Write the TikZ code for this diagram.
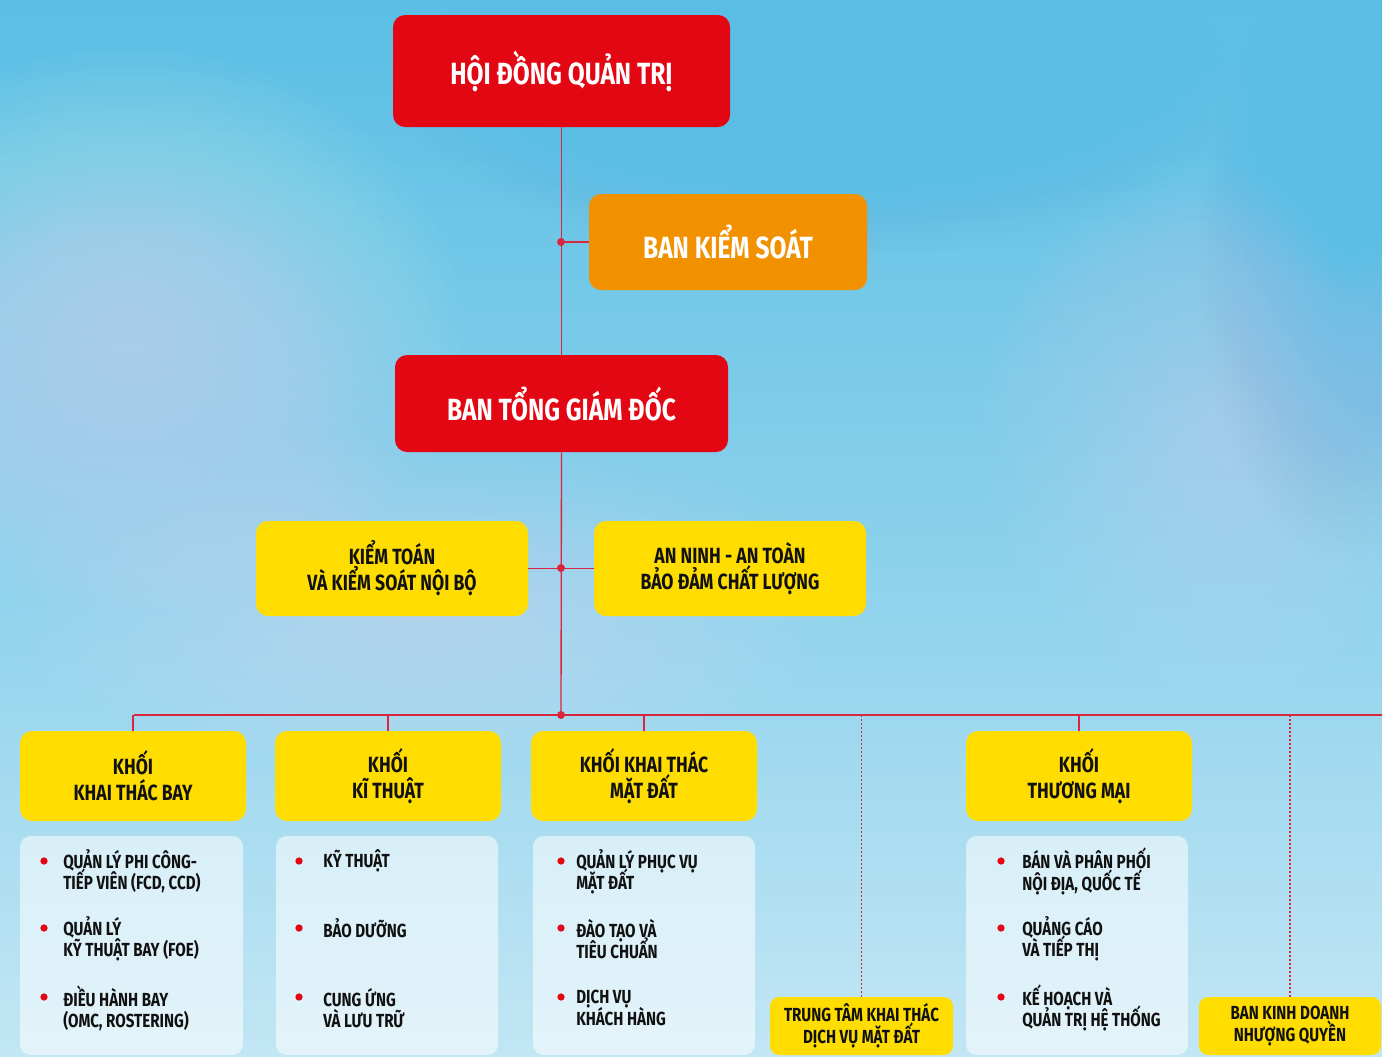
\documentclass[tikz,border=0pt]{standalone}
\usepackage{fontspec}
\newfontfamily\cf{Fira Sans}[FakeStretch=0.80]
\newcommand{\tightlines}{\lineskiplimit=-30pt\relax}
\definecolor{boxred}{HTML}{E30613}
\definecolor{boxorange}{HTML}{F29100}
\definecolor{boxyellow}{HTML}{FFDD00}
\definecolor{linered}{HTML}{D9263C}
\definecolor{skytop}{HTML}{5ABEE4}
\definecolor{skybot}{HTML}{C2E6F4}
\definecolor{txt}{HTML}{111111}
\tikzset{
  box/.style={rounded corners=9pt, inner sep=0pt, align=center, font=\cf\bfseries},
  redbox/.style={box, fill=boxred, text=white, font=\cf\bfseries\fontsize{23}{26}\selectfont},
  orbox/.style={box, fill=boxorange, text=white, font=\cf\bfseries\fontsize{23}{26}\selectfont},
  ybox/.style={box, fill=boxyellow, text=txt, font={\cf\bfseries\fontsize{16.5}{19.5}\selectfont\tightlines}},
  sbox/.style={box, fill=boxyellow, text=txt, rounded corners=7pt, font={\cf\bfseries\fontsize{14.2}{16.5}\selectfont\tightlines}},
  panel/.style={rounded corners=8pt, fill=white, fill opacity=0.55, inner sep=0pt},
  itemtxt/.style={font={\cf\bfseries\fontsize{14.2}{16}\selectfont\tightlines}, text=txt, align=left, inner sep=0pt, anchor=west},
  conn/.style={draw=linered, line width=1pt},
  dotconn/.style={draw=linered, line width=1pt, dotted},
  jdot/.style={circle, fill=linered, inner sep=0pt, minimum size=6pt},
  bdot/.style={circle, fill=boxred, inner sep=0pt, minimum size=5.5pt},
}
% #1 name, #2 bullet x, #3 text x, #4 bullet y, #5 text centre y, #6 text
\newcommand{\bitem}[6]{%
  \node[bdot] (#1d) at (#2,#4) {};
  \node[itemtxt] (#1) at (#3,#5) {#6};}
\begin{document}
\begin{tikzpicture}[x=0.75pt,y=-0.75pt]
% background
\shade[top color=skytop, bottom color=skybot, middle color=skytop!55!skybot] (0,0) rectangle (1382,1057);
\useasboundingbox (0,0) rectangle (1382,1057);
\begin{scope}
\clip (0,0) rectangle (1382,1057);
\foreach \s in {1.0,0.97,...,0.05} {
  \fill[white, opacity=0.02] (130,330) ellipse ({330*\s} and {280*\s});
  \fill[white, opacity=0.016] (420,600) ellipse ({420*\s} and {170*\s});
  \fill[white, opacity=0.014] (1230,430) ellipse ({250*\s} and {260*\s});
  \fill[skytop, opacity=0.025] (820,90) ellipse ({420*\s} and {170*\s});
  \fill[skytop, opacity=0.018] (1340,260) ellipse ({140*\s} and {300*\s});
}
\end{scope}

% top nodes
\node[redbox, minimum width=0.75*337pt, minimum height=0.75*112pt] (hdqt) at (561.5,71) {HỘI ĐỒNG QUẢN TRỊ};
\node[orbox, minimum width=0.75*278pt, minimum height=0.75*96pt] (bks) at (728,242) {BAN KIỂM SOÁT};
\node[redbox, minimum width=0.75*333pt, minimum height=0.75*97pt] (btgd) at (561.5,403.5) {BAN TỔNG GIÁM ĐỐC};
\node[ybox, minimum width=0.75*272pt, minimum height=0.75*95pt] (kt) at (392,568.5) {KIỂM TOÁN\\VÀ KIỂM SOÁT NỘI BỘ};
\node[ybox, minimum width=0.75*272pt, minimum height=0.75*95pt] (an) at (730,568.5) {AN NINH - AN TOÀN\\BẢO ĐẢM CHẤT LƯỢNG};

% blocks
\node[ybox, minimum width=0.75*226pt, minimum height=0.75*90pt] (k1) at (133,776) {KHỐI\\KHAI THÁC BAY};
\node[ybox, minimum width=0.75*226pt, minimum height=0.75*90pt] (k2) at (388,776) {KHỐI\\KĨ THUẬT};
\node[ybox, minimum width=0.75*226pt, minimum height=0.75*90pt] (k3) at (644,776) {KHỐI KHAI THÁC\\MẶT ĐẤT};
\node[ybox, minimum width=0.75*226pt, minimum height=0.75*90pt] (k4) at (1079,776) {KHỐI\\THƯƠNG MẠI};

\node[sbox, minimum width=0.75*183pt, minimum height=0.75*58pt] (tt) at (861.5,1026) {TRUNG TÂM KHAI THÁC\\DỊCH VỤ MẶT ĐẤT};
\node[sbox, minimum width=0.75*182pt, minimum height=0.75*58pt] (bkd) at (1290,1026) {BAN KINH DOANH\\NHƯỢNG QUYỀN};

% panels
\node[panel, minimum width=0.75*223pt, minimum height=0.75*219pt] (p1) at (131.5,945.5) {};
\node[panel, minimum width=0.75*222pt, minimum height=0.75*219pt] (p2) at (387,945.5) {};
\node[panel, minimum width=0.75*222pt, minimum height=0.75*219pt] (p3) at (644,945.5) {};
\node[panel, minimum width=0.75*222pt, minimum height=0.75*219pt] (p4) at (1077,945.5) {};

% connectors
\coordinate (hub) at (561,715);
\coordinate (lend) at (134,715);
\coordinate (rend) at (1382,715);
\coordinate (j1) at (561,242);
\coordinate (j2) at (561,568);
\draw[conn] (hdqt.south) -- (btgd.north);
\draw[conn] (j1) -- (bks.west);
\draw[conn] (btgd.south) -- (hub);
\draw[conn] (kt.east) -- (an.west);
\draw[conn] (lend) -- (rend);
\draw[conn] (k1.north) -- (k1.north |- hub);
\draw[conn] (k2.north) -- (k2.north |- hub);
\draw[conn] (k3.north) -- (k3.north |- hub);
\draw[conn] (k4.north) -- (k4.north |- hub);
\draw[dotconn] (tt.north) -- (tt.north |- hub);
\draw[dotconn] (bkd.north) -- (bkd.north |- hub);
\node[jdot] (j1d) at (j1) {};
\node[jdot] (j2d) at (j2) {};
\node[jdot] (hubd) at (hub) {};

% items
\bitem{a1}{44}{63}{861}{871.5}{QUẢN LÝ PHI CÔNG-\\TIẾP VIÊN (FCD, CCD)}
\bitem{a2}{44}{63}{928}{939}{QUẢN LÝ\\KỸ THUẬT BAY (FOE)}
\bitem{a3}{44}{63}{997}{1008}{ĐIỀU HÀNH BAY\\(OMC, ROSTERING)}
\bitem{b1}{299}{323}{861}{861}{KỸ THUẬT}
\bitem{b2}{299}{323}{928}{928}{BẢO DƯỠNG}
\bitem{b3}{299}{323}{997}{1008}{CUNG ỨNG\\VÀ LƯU TRỮ}
\bitem{c1}{561}{576}{861}{871.5}{QUẢN LÝ PHỤC VỤ\\MẶT ĐẤT}
\bitem{c2}{561}{576}{928}{939}{ĐÀO TẠO VÀ\\TIÊU CHUẨN}
\bitem{c3}{561}{576}{997}{1008}{DỊCH VỤ\\KHÁCH HÀNG}
\bitem{d1}{1001}{1022}{861}{871.5}{BÁN VÀ PHÂN PHỐI\\NỘI ĐỊA, QUỐC TẾ}
\bitem{d2}{1001}{1022}{928}{939}{QUẢNG CÁO\\VÀ TIẾP THỊ}
\bitem{d3}{1001}{1022}{997}{1008}{KẾ HOẠCH VÀ\\QUẢN TRỊ HỆ THỐNG}
\end{tikzpicture}
\end{document}
